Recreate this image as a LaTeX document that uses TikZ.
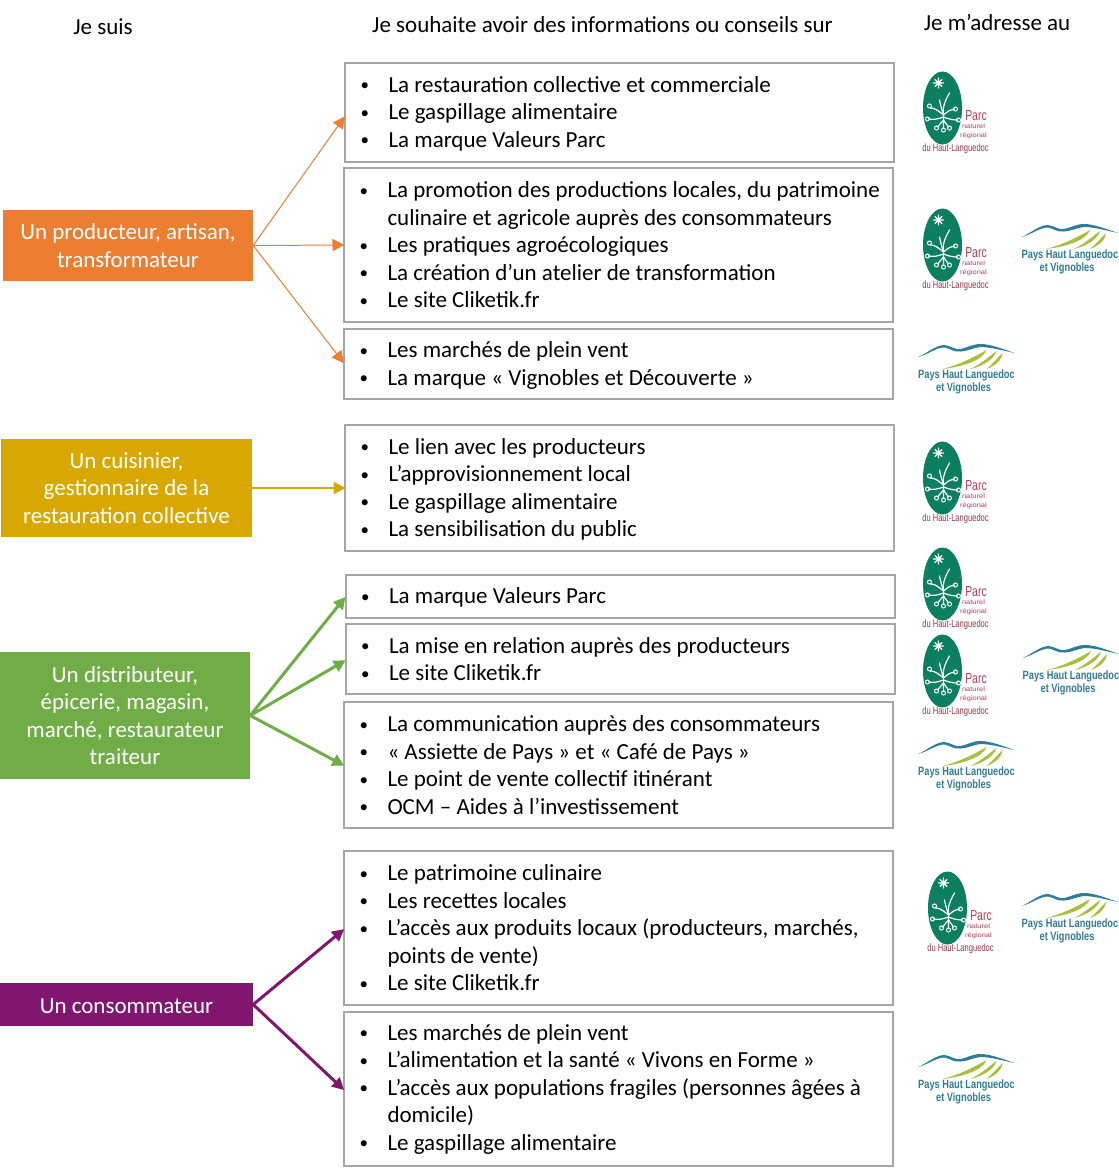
\documentclass[tikz,border=0pt]{standalone}
\usepackage{fontspec}
\setmainfont{Carlito}
\newfontfamily\logofont{Liberation Sans}
\usetikzlibrary{arrows.meta}
\definecolor{corange}{HTML}{ED7D31}
\definecolor{cyellow}{HTML}{D9A800}
\definecolor{cgreen}{HTML}{70AD47}
\definecolor{cpurple}{HTML}{81166F}
\definecolor{cborder}{HTML}{A6A6A6}
\definecolor{parcgreen}{HTML}{0B7F5F}
\definecolor{parcred}{HTML}{B5414F}
\definecolor{parcdark}{HTML}{9A3A45}
\definecolor{paysblue}{HTML}{2F7D96}
\definecolor{paysgreen}{HTML}{A8C03C}
\newcommand{\bu}{\makebox[33.5pt][l]{\hspace{5.5pt}\raisebox{1.5pt}{\fontsize{17}{17}\selectfont •}}}
\newcommand{\bn}{\makebox[33.5pt][l]{}}
\newcommand{\dn}{\rule{0pt}{18.5pt}}
\tikzset{
  x=1pt,y=-1pt,
  infobox/.style={draw=cborder,line width=2pt,fill=white,minimum width=549pt,text width=529pt,inner xsep=10pt,inner ysep=0pt,align=flush left,text=black,font=\fontsize{23}{27.5}\selectfont},
  srcbox/.style={inner sep=0pt,align=center,text=white,font=\fontsize{23}{27.5}\selectfont},
  head/.style={inner sep=0pt,text=black,font=\fontsize{23}{26}\selectfont},
  conn/.style={-{Triangle[length=12pt,width=12pt]},shorten >=-1.5pt},
  parcsmall/.style={inner sep=0pt,text=parcred,font=\logofont\fontsize{6.5}{7}\selectfont},
  plant/.style={draw=white,line width=1.2pt,line cap=round},
  parclogo/.pic={
    \fill[parcgreen] (0,0) ellipse [x radius=19.5pt,y radius=36.5pt];
    \draw[plant] (-9,-25)--(1,-25) (-4,-30)--(-4,-20) (-7.5,-28.5)--(-0.5,-21.5) (-7.5,-21.5)--(-0.5,-28.5);
    \draw[plant] (7,-15) .. controls (1,-5) and (0,2) .. (1,7);
    \draw[plant] (-3,-8) .. controls (-2,-2) and (0,3) .. (1,7) -- (1,20);
    \draw[plant] (1,7) .. controls (-5,2) and (-8,0) .. (-12,0);
    \draw[plant] (1,9) .. controls (-5,11) and (-8,12) .. (-14,11);
    \draw[plant] (1,7) .. controls (6,3) and (8,1) .. (12,1);
    \draw[plant] (1,9) .. controls (6,11) and (10,12) .. (15,12);
    \draw[plant] (1,12) -- (-5,19) (1,12) -- (6,19);
    \draw[white,line width=1pt] (-13,-2) circle [radius=2pt] (-15,11) circle [radius=2pt] (-6,20) circle [radius=2pt] (1,22) circle [radius=2pt] (7,20) circle [radius=2pt] (16,12) circle [radius=2pt] (13,1) circle [radius=2pt];
    \node[inner sep=0pt,text=parcred,font=\logofont\fontsize{14.5}{15}\selectfont] (-parc) at (33.5,8) {\scalebox{.72}[1]{Parc}};
    \node[parcsmall] (-nat) at (31,18.5) {\scalebox{1.15}[1]{naturel}};
    \node[parcsmall] (-reg) at (31,28) {\scalebox{1.15}[1]{régional}};
    \node[inner sep=0pt,text=parcdark,font=\logofont\fontsize{10.5}{11}\selectfont] (-haut) at (13,41) {\scalebox{.72}[1]{du Haut-Languedoc}};
  },
  payslogo/.pic={
    \fill[paysblue] (-48,-12) .. controls (-38,-17) and (-30,-24) .. (-22,-24) .. controls (-15,-23) and (-12,-19) .. (-6,-20) .. controls (0,-21) and (6,-25) .. (14,-25) .. controls (24,-25) and (36,-20) .. (48,-16) .. controls (36,-18.5) and (24,-22) .. (14,-22) .. controls (6,-21) and (0,-17.5) .. (-6,-17.5) .. controls (-13,-16.5) and (-16,-20.5) .. (-22,-21.5) .. controls (-30,-21.5) and (-38,-15) .. (-48,-12) -- cycle;
    \fill[paysgreen] (-24,0) .. controls (-8,-4) and (6,-11) .. (20,-19) .. controls (16,-8) and (-6,-2) .. (-24,0) -- cycle;
    \fill[paysgreen] (4,0) .. controls (14,-5) and (22,-12) .. (30,-18) .. controls (27,-9) and (16,-3) .. (4,0) -- cycle;
    \fill[paysgreen] (20,0) .. controls (26,-5) and (31,-11) .. (36,-16) .. controls (35,-8) and (28,-3) .. (20,0) -- cycle;
    \node[inner sep=0pt,text=paysblue,font=\logofont\bfseries\fontsize{12}{13}\selectfont] (-a) at (0,6) {\scalebox{.77}[1]{Pays Haut Languedoc}};
    \node[inner sep=0pt,text=paysblue,font=\logofont\bfseries\fontsize{12}{13}\selectfont] (-b) at (-3,19) {\scalebox{.77}[1]{et Vignobles}};
  }
}
\begin{document}
\begin{tikzpicture}
\useasboundingbox (0,0) rectangle (1119,1171);
\fill[white] (0,0) rectangle (1119,1171);
% headers
\node[head] (h1) at (103,27) {Je suis};
\node[head] (h2) at (602.5,25) {Je souhaite avoir des informations ou conseils sur};
\node[head] (h3) at (997,22) {Je m’adresse au};
% sources
\node[srcbox,fill=corange,minimum width=250pt,minimum height=71pt] (s1) at (128,245.5) {Un producteur, artisan,\\transformateur};
\node[srcbox,fill=cyellow,minimum width=251pt,minimum height=98pt] (s2) at (126.5,488) {Un cuisinier,\\gestionnaire de la\\restauration collective};
\node[srcbox,fill=cgreen,minimum width=250pt,minimum height=127pt] (s3) at (125,715.5) {Un distributeur,\\épicerie, magasin,\\marché, restaurateur\\traiteur};
\node[srcbox,fill=cpurple,minimum width=253pt,minimum height=43pt] (s4) at (126.5,1004.5) {\dn Un consommateur};
% boxes
\node[infobox,minimum height=99pt] (b1) at (619.5,112.5) {\dn\bu La restauration collective et commerciale\\\bu Le gaspillage alimentaire\\\bu La marque Valeurs Parc};
\node[infobox,minimum height=154pt] (b2) at (618.5,245) {\bu La promotion des productions locales, du patrimoine\\\bn culinaire et agricole auprès des consommateurs\\\bu Les pratiques agroécologiques\\\bu La création d’un atelier de transformation\\\bu Le site Cliketik.fr};
\node[infobox,minimum height=70pt] (b3) at (618.5,364) {\dn\bu Les marchés de plein vent\\\bu La marque « Vignobles et Découverte »};
\node[infobox,minimum height=126pt] (b4) at (619.5,488) {\dn\bu Le lien avec les producteurs\\\bu L’approvisionnement local\\\bu Le gaspillage alimentaire\\\bu La sensibilisation du public};
\node[infobox,minimum height=43pt] (b5) at (620,596.5) {\dn\bu La marque Valeurs Parc};
\node[infobox,minimum height=70pt] (b6) at (620,659) {\bu La mise en relation auprès des producteurs\\\bu Le site Cliketik.fr};
\node[infobox,minimum height=126pt] (b7) at (618.5,765) {\bu La communication auprès des consommateurs\\\bu « Assiette de Pays » et « Café de Pays »\\\bu Le point de vente collectif itinérant\\\bu OCM – Aides à l’investissement};
\node[infobox,minimum height=154pt] (b8) at (618.5,928) {\bu Le patrimoine culinaire\\\bu Les recettes locales\\\bu L’accès aux produits locaux (producteurs, marchés,\\\bn points de vente)\\\bu Le site Cliketik.fr};
\node[infobox,minimum height=154pt] (b9) at (618.5,1089) {\bu Les marchés de plein vent\\\bu L’alimentation et la santé « Vivons en Forme »\\\bu L’accès aux populations fragiles (personnes âgées à\\\bn domicile)\\\bu Le gaspillage alimentaire};
% connectors
\draw[conn,corange,line width=1pt] (s1.east) -- ([yshift=-5pt]b1.west);
\draw[conn,corange,line width=1pt] (s1.east) -- (b2.west);
\draw[conn,corange,line width=1pt] (s1.east) -- ([yshift=2pt]b3.west);
\draw[conn,cyellow,line width=2.5pt] (s2.east) -- (b4.west);
\draw[conn,cgreen,line width=3pt] (s3.east) -- ([yshift=-1.5pt]b5.west);
\draw[conn,cgreen,line width=3pt] (s3.east) -- ([yshift=-2pt]b6.west);
\draw[conn,cgreen,line width=3pt] (s3.east) -- (b7.west);
\draw[conn,cpurple,line width=3pt] (s4.east) -- ([yshift=-2pt]b8.west);
\draw[conn,cpurple,line width=3pt] (s4.east) -- (b9.west);
% logos
\pic (l1) at (942.5,108) {parclogo};
\pic (l2) at (942.5,245) {parclogo};
\pic (l3) at (942.5,478) {parclogo};
\pic (l4) at (942.5,584) {parclogo};
\pic (l5) at (942.5,671) {parclogo};
\pic (l6) at (947.5,908) {parclogo};
\pic (p1) at (1070,249) {payslogo};
\pic (p2) at (966.5,369) {payslogo};
\pic (p3) at (1071,670) {payslogo};
\pic (p4) at (966.5,766) {payslogo};
\pic (p5) at (1070,918) {payslogo};
\pic (p6) at (966.5,1079) {payslogo};
\end{tikzpicture}
\end{document}
